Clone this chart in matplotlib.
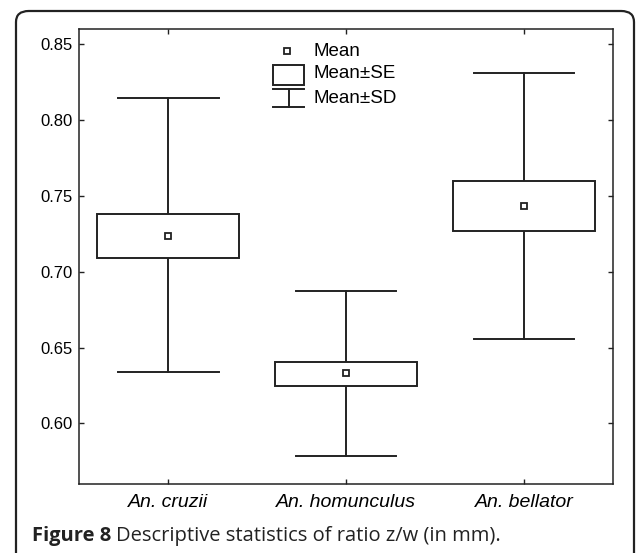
import numpy as np
import matplotlib
matplotlib.use("Agg")
import matplotlib.pyplot as plt
from matplotlib.patches import Rectangle, FancyBboxPatch

# values
species = ["An. cruzii", "An. homunculus", "An. bellator"]
mean = [0.7233, 0.6335, 0.7437]
se_low = [0.7092, 0.6248, 0.7267]
se_high = [0.7380, 0.6404, 0.7599]
sd_low = [0.6338, 0.5787, 0.6555]
sd_high = [0.8145, 0.6872, 0.8313]
yticks = [0.60, 0.65, 0.70, 0.75, 0.80, 0.85]

plt.rcParams['font.family'] = ['Liberation Sans', 'DejaVu Sans']

fig = plt.figure(figsize=(6.37, 5.53), dpi=100)
ax = fig.add_axes([0.1248, 0.1248, 0.8371, 0.8222])

lw = 1.4
boxw = 0.8
capw = 0.565
x = np.arange(1, len(species) + 1)

for i in range(len(species)):
    xi = x[i]
    # whiskers (SD)
    ax.plot([xi, xi], [se_high[i], sd_high[i]], color='#222222', lw=lw, zorder=2)
    ax.plot([xi, xi], [sd_low[i], se_low[i]], color='#222222', lw=lw, zorder=2)
    ax.plot([xi - capw / 2, xi + capw / 2], [sd_high[i], sd_high[i]], color='#222222', lw=lw, zorder=2)
    ax.plot([xi - capw / 2, xi + capw / 2], [sd_low[i], sd_low[i]], color='#222222', lw=lw, zorder=2)
    # SE box
    ax.add_patch(Rectangle((xi - boxw / 2, se_low[i]), boxw, se_high[i] - se_low[i],
                           facecolor='white', edgecolor='#222222', lw=lw, zorder=3))
    # mean
    ax.plot(xi, mean[i], marker='s', ms=5, mfc='white', mec='#222222', mew=1.3, zorder=4)

ax.set_xlim(0.5, 3.5)
ax.set_ylim(0.56, 0.86)
ax.set_xticks(x)
ax.set_xticklabels(species, fontstyle='italic', fontsize=14)
ax.set_yticks(yticks)
ax.set_yticklabels(["%.2f" % v for v in yticks], fontsize=12)
ax.tick_params(direction='in', length=3.5, width=1.0, top=True, right=True, color='#222222')
ax.tick_params(axis='x', pad=7.5)
ax.tick_params(axis='y', pad=5)
for s in ax.spines.values():
    s.set_linewidth(1.1)
    s.set_color('#222222')

# legend drawn by hand
tr = ax.transAxes
ax.plot(0.389, 0.952, marker='s', ms=5, mfc='white', mec='#222222', mew=1.3, transform=tr, clip_on=False)
ax.add_patch(Rectangle((0.363, 0.878), 0.058, 0.043, facecolor='white', edgecolor='#222222',
                       lw=lw, transform=tr))
ax.plot([0.363, 0.421], [0.869, 0.869], color='#222222', lw=lw, transform=tr)
ax.plot([0.392, 0.392], [0.869, 0.829], color='#222222', lw=lw, transform=tr)
ax.plot([0.363, 0.421], [0.829, 0.829], color='#222222', lw=lw, transform=tr)
for ty, txt in zip([0.951, 0.902, 0.848], ["Mean", "Mean\u00b1SE", "Mean\u00b1SD"]):
    ax.text(0.438, ty, txt, transform=tr, fontsize=13.5, va='center', ha='left')

# outer rounded frame
frame = FancyBboxPatch((16 / 637, -0.05), (634 - 16) / 637, 1 - 11 / 553 + 0.05,
                       boxstyle="round,pad=0,rounding_size=0.02", transform=fig.transFigure,
                       facecolor='none', edgecolor='#222222', lw=1.6, clip_on=False)
fig.patches.append(frame)

cap1 = fig.text(32 / 637, 1 - 536 / 553, "Figure 8", fontsize=14.5, fontweight='bold',
                family=['Open Sans', 'DejaVu Sans'], va='center', ha='left', color='#222222')
fig.canvas.draw()
bb = cap1.get_window_extent()
fig.text((bb.x1 + 5) / 637, 1 - 536 / 553, "Descriptive statistics of ratio z/w (in mm).", fontsize=14.5,
         family=['Open Sans', 'DejaVu Sans'], va='center', ha='left', color='#222222')

fig.savefig("out.png", dpi=100)
